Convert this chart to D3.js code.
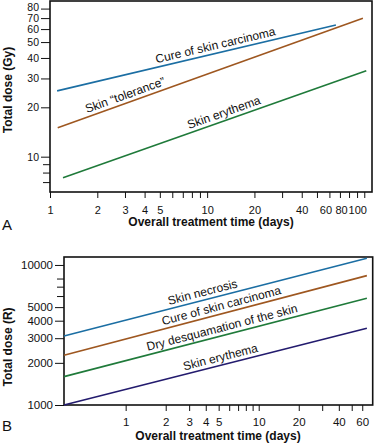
<!DOCTYPE html>
<html>
<head>
<meta charset="utf-8">
<script src="https://cdn.jsdelivr.net/npm/d3@7"></script>
<style>
  body { margin: 0; background: #fff; }
  svg text { font-family: "Liberation Sans", Arial, Helvetica, sans-serif; fill: #111; }
  .tick line { stroke: #111; }
</style>
</head>
<body>
<div id="chart"></div>
<script>
// ---- panel A data (Gy) ----
var aNames = ["Cure of skin carcinoma", "Skin \u201ctolerance\u201d", "Skin erythema"];
var aDays  = [[1.11, 66], [1.12, 98], [1.21, 103]];
var aDose  = [[25.2, 63.5], [15.0, 69.8], [7.45, 33.4]];
var aXTicks = [1, 2, 3, 4, 5, 10, 20, 40, 60, 80, 100];
var aXMinor = [6, 7, 8, 9, 30, 50, 70, 90];
var aYTicks = [10, 20, 30, 40, 50, 60, 70, 80];
var aYMinor = [7, 8, 9];

// ---- panel B data (R) ----
var bNames = ["Skin necrosis", "Cure of skin carcinoma", "Dry desquamation of the skin", "Skin erythema"];
var bDays  = [[0.344, 65], [0.344, 65], [0.344, 65], [0.344, 65]];
var bDose  = [[3110, 11150], [2265, 8390], [1595, 5780], [1000, 3530]];
var bXTicks = [1, 2, 3, 4, 5, 10, 20, 40, 60];
var bXMinor = [6, 7, 8, 9, 30, 50];
var bYTicks = [1000, 2000, 3000, 4000, 5000, 10000];
var bYMinor = [6000, 7000, 8000];

var colorsA = ["#1b6ea3", "#9e5720", "#1f7a3a"];
var colorsB = ["#1b6ea3", "#9e5720", "#1f7a3a", "#231b6e"];

var svg = d3.select("#chart").append("svg")
    .attr("width", 374)
    .attr("height", 443);

// draw one log-log panel
function drawPanel(p) {
    var x = d3.scaleLog().domain(p.xDomain).range([p.left, p.right]);
    var y = d3.scaleLog().domain(p.yDomain).range([p.bottom, p.top]);
    var g = svg.append("g");

    // x axis major + minor
    g.append("g")
        .attr("transform", "translate(0," + p.bottom + ")")
        .call(d3.axisBottom(x).tickValues(p.xTicks).tickFormat(d3.format("d"))
              .tickSize(6).tickPadding(p.xPad))
        .call(function(s) { s.select(".domain").remove(); })
        .selectAll("text")
            .style("font-size", p.xFont)
            // crowded labels at the right end sit a little left of their tick
            .attr("dx", function(d) { return p.crowdShift(d); });
    g.append("g")
        .attr("transform", "translate(0," + p.bottom + ")")
        .call(d3.axisBottom(x).tickValues(p.xMinor).tickFormat("").tickSize(6))
        .call(function(s) { s.select(".domain").remove(); });

    // y axis major + minor
    g.append("g")
        .attr("transform", "translate(" + p.left + ",0)")
        .call(d3.axisLeft(y).tickValues(p.yTicks).tickFormat(d3.format("d"))
              .tickSize(9).tickPadding(2))
        .call(function(s) { s.select(".domain").remove(); })
        .selectAll("text")
            .style("font-size", p.yFont)
            .attr("y", function(d) { return d === 80 ? -1 : 0; });
    g.append("g")
        .attr("transform", "translate(" + p.left + ",0)")
        .call(d3.axisLeft(y).tickValues(p.yMinor).tickFormat("").tickSize(7))
        .call(function(s) { s.select(".domain").remove(); });

    // frame
    g.append("rect")
        .attr("x", p.left).attr("y", p.top)
        .attr("width", p.right - p.left).attr("height", p.bottom - p.top)
        .attr("fill", "none").attr("stroke", "#111").attr("stroke-width", 1.6);

    // lines
    p.names.forEach(function(name, i) {
        var pts = [[p.days[i][0], p.dose[i][0]], [p.days[i][1], p.dose[i][1]]];
        g.append("path")
            .datum(pts)
            .attr("fill", "none")
            .attr("stroke", p.colors[i])
            .attr("stroke-width", 1.6)
            .attr("d", d3.line().x(function(d) { return x(d[0]); }).y(function(d) { return y(d[1]); }));

        // label along the line
        var x0 = x(pts[0][0]), y0 = y(pts[0][1]), x1 = x(pts[1][0]), y1 = y(pts[1][1]);
        var t = p.labelAt[i];
        var lx = x0 + (x1 - x0) * t, ly = y0 + (y1 - y0) * t;
        var ang = Math.atan2(y1 - y0, x1 - x0) * 180 / Math.PI;
        g.append("text")
            .attr("transform", "translate(" + lx + "," + ly + ") rotate(" + ang + ")")
            .attr("y", -4)
            .style("font-size", "12px")
            .text(name);
    });

    // axis titles
    g.append("text")
        .attr("x", p.xTitleX).attr("y", p.xTitleY)
        .attr("text-anchor", "middle")
        .style("font-size", "12px").style("font-weight", "bold")
        .text("Overall treatment time (days)");
    g.append("text")
        .attr("transform", "translate(12," + p.yTitleY + ") rotate(-90)")
        .attr("text-anchor", "middle")
        .style("font-size", "12px").style("font-weight", "bold")
        .text(p.yTitle);
    g.append("text")
        .attr("x", 2).attr("y", p.letterY)
        .style("font-size", "15px")
        .text(p.letter);
}

drawPanel({
    left: 50, right: 372, top: 1, bottom: 192,
    xDomain: [1, 112], yDomain: [6.09, 89],
    xTicks: aXTicks, xMinor: aXMinor, yTicks: aYTicks, yMinor: aYMinor,
    xFont: "11px", yFont: "10.5px",
    crowdShift: function(d) { return d === 100 ? -7 : (d === 80 ? -8 : (d === 60 ? -4 : 0)); },
    xPad: 8, names: aNames, days: aDays, dose: aDose, colors: colorsA,
    labelAt: [0.36, 0.1, 0.42],
    xTitleX: 211, xTitleY: 226, yTitle: "Total dose (Gy)", yTitleY: 90,
    letter: "A", letterY: 230
});

drawPanel({
    left: 64, right: 372.7, top: 257, bottom: 405,
    xDomain: [0.344, 71.9], yDomain: [1000, 11400],
    xTicks: bXTicks, xMinor: bXMinor, yTicks: bYTicks, yMinor: bYMinor,
    xFont: "11.5px", yFont: "11.5px",
    crowdShift: function() { return 0; },
    xPad: 7, names: bNames, days: bDays, dose: bDose, colors: colorsB,
    labelAt: [0.35, 0.33, 0.28, 0.4],
    xTitleX: 218, xTitleY: 440, yTitle: "Total dose (R)", yTitleY: 347,
    letter: "B", letterY: 431
});
</script>
</body>
</html>
